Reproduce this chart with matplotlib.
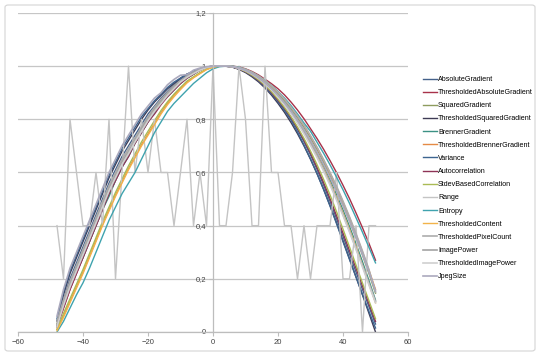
import matplotlib
matplotlib.use('Agg')
import matplotlib.pyplot as plt
from matplotlib.patches import FancyBboxPatch
from matplotlib.ticker import FuncFormatter

# focus position, -48 .. 50 step 2
x_pos = list(range(-48, 51, 2))

absolute_gradient = [0.04, 0.12, 0.2, 0.26, 0.32, 0.38, 0.44, 0.5, 0.56, 0.61, 0.66, 0.7, 0.74, 0.78, 0.82, 0.85, 0.88, 0.905, 0.93, 0.95, 0.965, 0.98, 0.99, 0.997, 1.0, 1.0,
                     1.0, 0.997, 0.99, 0.979, 0.965, 0.947, 0.925, 0.9, 0.871, 0.839, 0.803, 0.762, 0.716, 0.666, 0.612, 0.554, 0.492, 0.427, 0.36, 0.293, 0.226, 0.16, 0.095, 0.03]
thresholded_absolute_gradient = [0.02, 0.09, 0.16, 0.22, 0.28, 0.34, 0.4, 0.46, 0.52, 0.57, 0.62, 0.67, 0.71, 0.75, 0.79, 0.83, 0.86, 0.89, 0.915, 0.935, 0.955, 0.97, 0.985, 0.995, 1.0, 1.0,
                                 1.0, 1.0, 0.997, 0.99, 0.98, 0.967, 0.951, 0.934, 0.915, 0.892, 0.865, 0.835, 0.802, 0.765, 0.728, 0.688, 0.645, 0.6, 0.552, 0.502, 0.448, 0.392, 0.333, 0.27]
squared_gradient = [0.03, 0.1, 0.17, 0.23, 0.29, 0.35, 0.41, 0.47, 0.52, 0.58, 0.63, 0.67, 0.72, 0.76, 0.8, 0.83, 0.865, 0.89, 0.915, 0.94, 0.955, 0.97, 0.985, 0.995, 1.0, 1.0,
                    1.0, 0.999, 0.995, 0.987, 0.976, 0.962, 0.944, 0.924, 0.9, 0.872, 0.841, 0.807, 0.77, 0.73, 0.686, 0.639, 0.588, 0.535, 0.478, 0.418, 0.355, 0.289, 0.219, 0.146]
thresholded_squared_gradient = [0.04, 0.14, 0.22, 0.28, 0.34, 0.4, 0.46, 0.52, 0.58, 0.63, 0.68, 0.72, 0.76, 0.8, 0.835, 0.865, 0.89, 0.915, 0.935, 0.955, 0.97, 0.98, 0.99, 0.995, 1.0, 1.0,
                                1.0, 0.996, 0.988, 0.976, 0.96, 0.941, 0.918, 0.891, 0.86, 0.826, 0.788, 0.746, 0.7, 0.65, 0.596, 0.538, 0.476, 0.411, 0.343, 0.275, 0.207, 0.139, 0.07, 0.0]
brenner_gradient = [0.02, 0.1, 0.17, 0.23, 0.28, 0.34, 0.4, 0.46, 0.51, 0.57, 0.62, 0.66, 0.71, 0.75, 0.79, 0.825, 0.86, 0.885, 0.91, 0.935, 0.955, 0.97, 0.985, 0.995, 1.0, 1.0,
                    1.0, 0.998, 0.994, 0.986, 0.974, 0.959, 0.94, 0.918, 0.893, 0.864, 0.832, 0.797, 0.759, 0.717, 0.672, 0.624, 0.572, 0.517, 0.459, 0.397, 0.332, 0.264, 0.193, 0.12]
thresholded_brenner_gradient = [0.01, 0.06, 0.115, 0.17, 0.225, 0.285, 0.345, 0.405, 0.46, 0.515, 0.565, 0.615, 0.66, 0.705, 0.745, 0.785, 0.825, 0.86, 0.89, 0.915, 0.94, 0.958, 0.973, 0.988, 0.996, 1.0,
                                1.0, 0.999, 0.995, 0.988, 0.977, 0.963, 0.946, 0.926, 0.903, 0.876, 0.846, 0.813, 0.777, 0.737, 0.694, 0.648, 0.598, 0.545, 0.489, 0.43, 0.367, 0.301, 0.232, 0.16]
variance = [0.05, 0.15, 0.23, 0.29, 0.35, 0.41, 0.47, 0.53, 0.59, 0.64, 0.69, 0.73, 0.77, 0.81, 0.84, 0.87, 0.895, 0.92, 0.94, 0.955, 0.97, 0.98, 0.99, 0.995, 1.0, 1.0,
            1.0, 0.997, 0.99, 0.978, 0.963, 0.945, 0.922, 0.896, 0.866, 0.833, 0.797, 0.752, 0.703, 0.651, 0.596, 0.537, 0.474, 0.408, 0.34, 0.273, 0.207, 0.141, 0.077, 0.015]
autocorrelation = [0.02, 0.09, 0.16, 0.22, 0.28, 0.34, 0.4, 0.46, 0.52, 0.57, 0.62, 0.66, 0.71, 0.75, 0.79, 0.82, 0.855, 0.885, 0.91, 0.935, 0.955, 0.97, 0.985, 0.995, 1.0, 1.0,
                   1.0, 0.997, 0.99, 0.979, 0.965, 0.947, 0.926, 0.901, 0.872, 0.842, 0.807, 0.767, 0.722, 0.673, 0.62, 0.563, 0.502, 0.438, 0.372, 0.306, 0.24, 0.173, 0.106, 0.04]
stdev_based_correlation = [0.01, 0.07, 0.125, 0.18, 0.235, 0.295, 0.355, 0.415, 0.47, 0.525, 0.575, 0.625, 0.67, 0.715, 0.755, 0.795, 0.833, 0.866, 0.895, 0.92, 0.944, 0.96, 0.976, 0.989, 0.997, 1.0,
                           1.0, 0.998, 0.991, 0.98, 0.966, 0.949, 0.928, 0.904, 0.876, 0.845, 0.81, 0.771, 0.728, 0.681, 0.63, 0.575, 0.516, 0.453, 0.387, 0.32, 0.252, 0.184, 0.117, 0.05]
range_ = [0.4, 0.2, 0.8, 0.6, 0.4, 0.4, 0.6, 0.4, 0.8, 0.2, 0.6, 1.0, 0.6, 0.8, 0.6, 0.8, 0.6, 0.6, 0.4, 0.6, 0.8, 0.4, 0.6, 0.4, 1.0, 0.4,
          0.4, 0.6, 1.0, 0.8, 0.4, 0.4, 1.0, 0.6, 0.6, 0.4, 0.4, 0.2, 0.4, 0.2, 0.4, 0.4, 0.4, 0.6, 0.2, 0.2, 0.4, 0.0, 0.4, 0.4]
entropy = [0.0, 0.04, 0.09, 0.14, 0.185, 0.24, 0.3, 0.36, 0.42, 0.47, 0.52, 0.56, 0.6, 0.65, 0.7, 0.75, 0.79, 0.83, 0.86, 0.885, 0.91, 0.935, 0.955, 0.975, 0.99, 0.998,
           1.0, 1.0, 0.996, 0.988, 0.977, 0.963, 0.946, 0.927, 0.905, 0.88, 0.852, 0.82, 0.786, 0.755, 0.714, 0.673, 0.629, 0.583, 0.535, 0.484, 0.43, 0.375, 0.318, 0.26]
thresholded_content = [0.005, 0.055, 0.11, 0.165, 0.22, 0.28, 0.34, 0.4, 0.455, 0.51, 0.56, 0.61, 0.655, 0.7, 0.74, 0.78, 0.82, 0.855, 0.885, 0.912, 0.937, 0.956, 0.972, 0.987, 0.996, 1.0,
                       1.0, 0.998, 0.993, 0.985, 0.973, 0.958, 0.939, 0.917, 0.891, 0.862, 0.829, 0.793, 0.754, 0.711, 0.665, 0.616, 0.563, 0.507, 0.448, 0.386, 0.32, 0.251, 0.18, 0.11]
thresholded_pixel_count = [0.04, 0.12, 0.19, 0.25, 0.31, 0.37, 0.43, 0.49, 0.55, 0.6, 0.65, 0.69, 0.73, 0.77, 0.81, 0.845, 0.875, 0.9, 0.925, 0.945, 0.962, 0.977, 0.988, 0.996, 1.0, 1.0,
                           1.0, 0.999, 0.995, 0.988, 0.977, 0.963, 0.946, 0.926, 0.903, 0.876, 0.846, 0.813, 0.777, 0.738, 0.695, 0.649, 0.6, 0.548, 0.492, 0.433, 0.37, 0.304, 0.234, 0.15]
image_power = [0.03, 0.11, 0.18, 0.24, 0.3, 0.36, 0.42, 0.48, 0.54, 0.59, 0.64, 0.68, 0.72, 0.765, 0.805, 0.84, 0.87, 0.9, 0.925, 0.945, 0.962, 0.977, 0.988, 0.996, 1.0, 1.0,
               1.0, 0.998, 0.993, 0.984, 0.972, 0.956, 0.937, 0.914, 0.888, 0.859, 0.826, 0.79, 0.751, 0.708, 0.662, 0.612, 0.559, 0.503, 0.443, 0.38, 0.315, 0.25, 0.183, 0.115]
thresholded_image_power = [0.02, 0.1, 0.17, 0.23, 0.29, 0.35, 0.41, 0.47, 0.53, 0.58, 0.63, 0.67, 0.715, 0.755, 0.795, 0.83, 0.86, 0.89, 0.915, 0.94, 0.958, 0.972, 0.985, 0.995, 1.0, 1.0,
                           1.0, 0.998, 0.992, 0.983, 0.97, 0.954, 0.934, 0.911, 0.884, 0.854, 0.821, 0.785, 0.745, 0.702, 0.656, 0.606, 0.553, 0.497, 0.438, 0.376, 0.311, 0.244, 0.176, 0.11]
jpeg_size = [0.06, 0.16, 0.24, 0.3, 0.36, 0.42, 0.48, 0.54, 0.6, 0.65, 0.7, 0.74, 0.78, 0.82, 0.85, 0.88, 0.9, 0.93, 0.95, 0.966, 0.968, 0.985, 0.993, 0.998, 1.0, 1.0,
             1.0, 0.998, 0.993, 0.984, 0.972, 0.956, 0.937, 0.915, 0.89, 0.862, 0.831, 0.797, 0.76, 0.72, 0.677, 0.631, 0.582, 0.53, 0.475, 0.417, 0.356, 0.292, 0.225, 0.155]

names = ['AbsoluteGradient', 'ThresholdedAbsoluteGradient', 'SquaredGradient',
         'ThresholdedSquaredGradient', 'BrennerGradient', 'ThresholdedBrennerGradient',
         'Variance', 'Autocorrelation', 'StdevBasedCorrelation', 'Range', 'Entropy',
         'ThresholdedContent', 'ThresholdedPixelCount', 'ImagePower',
         'ThresholdedImagePower', 'JpegSize']
series = [absolute_gradient, thresholded_absolute_gradient, squared_gradient,
          thresholded_squared_gradient, brenner_gradient, thresholded_brenner_gradient,
          variance, autocorrelation, stdev_based_correlation, range_, entropy,
          thresholded_content, thresholded_pixel_count, image_power,
          thresholded_image_power, jpeg_size]
colors = ['#44618A', '#A8324A', '#8E9C5E', '#3E3B55', '#3B9184', '#E58A45',
          '#3D6590', '#8E3356', '#AABB55', '#C4C4C4', '#3FA3AE', '#F2B34A',
          '#ADADAD', '#A3A3A3', '#CFCFCF', '#ABA9BD']

plt.rcParams['font.family'] = ['Liberation Sans', 'DejaVu Sans']

fig = plt.figure(figsize=(5.4, 3.58), dpi=100)
fig.patches.append(FancyBboxPatch((5 / 540, 7 / 358), 530 / 540, 346 / 358,
                                  boxstyle='round,pad=0,rounding_size=0.006',
                                  transform=fig.transFigure, fill=False,
                                  edgecolor='#D4D4D4', linewidth=0.8))
ax = fig.add_axes([18 / 540, 26 / 358, 390 / 540, 319 / 358])

for vals, name, c in zip(series, names, colors):
    lw = 1.2 if c in ('#ADADAD', '#A3A3A3', '#CFCFCF', '#ABA9BD') else 1.0
    ax.plot(x_pos, vals, color=c, linewidth=lw, label=name, solid_joinstyle='round')

ax.set_xlim(-60, 60)
ax.set_ylim(0, 1.2)
ax.set_xticks(range(-60, 61, 20))
ax.set_yticks([0, 0.2, 0.4, 0.6, 0.8, 1.0, 1.2])
ax.yaxis.set_major_formatter(FuncFormatter(lambda v, p: f'{v:g}'.replace('.', ',')))
ax.grid(axis='y', color='#C6C6C6', linewidth=0.9)
ax.set_axisbelow(True)
ax.spines['left'].set_position(('data', 0))
for s in ('top', 'right'):
    ax.spines[s].set_visible(False)
for s in ('left', 'bottom'):
    ax.spines[s].set_color('#BDBDBD')
    ax.spines[s].set_linewidth(0.9)
ax.tick_params(axis='both', labelsize=5.5, colors='#BDBDBD', labelcolor='#404040',
               length=3, width=0.8, pad=2)

fig.legend(loc='upper left', bbox_to_anchor=(423 / 540, 1 - 76 / 358),
           frameon=False, fontsize=5.1, handlelength=1.98, handletextpad=0.15,
           labelspacing=0.87, borderaxespad=0, borderpad=0)

fig.savefig('out.png', dpi=100)
